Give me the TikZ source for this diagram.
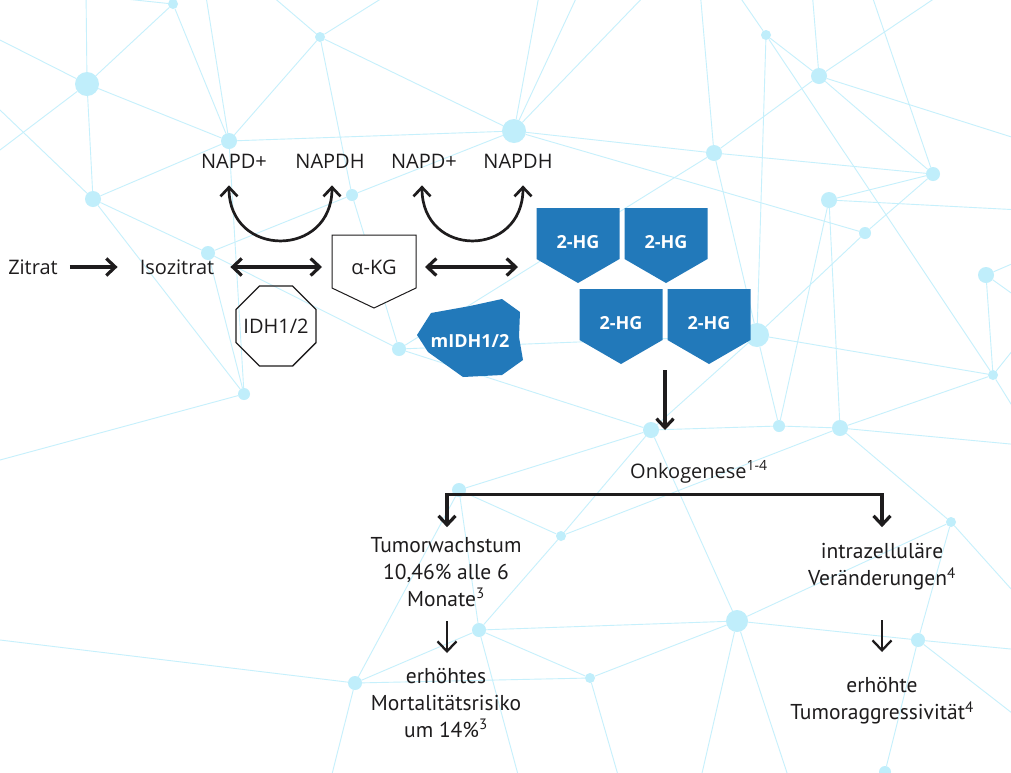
\documentclass[tikz,border=0pt]{standalone}
\usepackage{fontspec}
\setmainfont{Open Sans}
\newfontfamily\bodyfont{PT Sans}
\usetikzlibrary{arrows.meta,shapes.geometric,calc}
\definecolor{net}{HTML}{C0EEFB}
\definecolor{netl}{HTML}{C6F0FC}
\definecolor{hgblue}{HTML}{2279BA}
\definecolor{ink}{HTML}{1E1C1D}
\begin{document}
\begin{tikzpicture}[x=1pt,y=-1pt,
  >={Straight Barb[length=9pt,width=17pt]},
  txt/.style={font=\fontsize{20}{24}\selectfont,text=ink,inner sep=2pt},
  btxt/.style={font=\bodyfont\fontsize{21.5}{27}\selectfont,text=ink,align=center,inner sep=2pt},
  wtxt/.style={font=\bfseries\fontsize{18}{22}\selectfont,text=white,inner sep=1pt},
  arrow/.style={draw=ink,line width=3.2pt},
  thinarrow/.style={draw=ink,line width=2.3pt,>={Straight Barb[length=10pt,width=19pt]}},
  dot/.style={circle,fill=net,inner sep=0pt,draw=none},
  netline/.style={draw=netl,line width=0.9pt}]
\useasboundingbox (0,0) rectangle (1011,772);
\fill[white] (0,0) rectangle (1011,772);
% background network
\begin{scope}
\clip (0,0) rectangle (1011,772);
\foreach \n/\x/\y/\d in {a1/173/4/10,a2/87/84/24,a3/320/37/10,a4/229/141/16,a5/93/199/16,
  a6/208/253/14,a7/352/195/12,a8/514/131/24,a9/714/153/16,a10/766/35/10,a11/819/76/16,
  a12/933/174/14,a13/829/200/16,a14/865/233/12,a15/986/275/16,a16/757/335/24,a17/993/375/10,
  a18/244/394/12,a19/399/349/14,a20/651/430/16,a21/779/426/12,a22/840/428/16,a23/459/490/14,
  a24/561/536/10,a25/951/522/10,a26/479/630/14,a27/737/621/22,a28/918/640/14,a29/355/683/14,
  a30/590/678/10,a31/885/772/12}
  \node[dot,minimum size=\d pt] (\n) at (\x,\y) {};
\foreach \n/\x/\y in {o1/0/150,o2/86/-10,o3/205/-10,o4/0/110,o5/395/-10,o6/265/-10,o7/540/-10,
  o8/580/-10,o9/650/-10,o10/700/-10,o11/735/-10,o12/947/-10,o13/812/-10,o14/1021/140,o15/870/-10,
  o16/1021/210,o17/1021/260,o18/1021/300,o19/1021/340,o20/1021/420,o21/1021/445,o22/700/782,
  o23/790/782,o24/1021/650,o25/1021/720,o26/330/782,o27/0/640,o28/620/782,o29/520/782,
  o30/1021/600,o31/0/40,o32/40/-10,o33/0/460}
  \coordinate (\n) at (\x,\y);
\foreach \p/\q in {a2/a1,a2/a4,a2/a5,a2/o1,a2/o2,a2/o31,a1/a4,a1/o32,
  a4/a3,a4/a5,a4/a8,a4/a18,a4/o3,a5/a6,a5/a18,a5/o4,a6/a7,a6/a19,a6/a18,
  a3/a7,a3/a8,a3/o5,a3/o6,a7/a8,a7/a19,a19/a20,a19/a16,a19/a9,a18/o33,
  a8/a9,a8/a14,a8/o7,a8/o8,a8/o9,a9/a16,a9/a12,a9/a11,a9/o10,
  a10/a11,a10/a16,a10/a17,a10/o11,a11/a12,a11/o12,a11/o13,a11/o14,
  a12/a14,a12/o15,a12/a13,a13/o16,a13/a21,a13/a22,a14/a16,
  a15/a17,a15/o17,a15/o18,a16/a17,a16/a21,a16/a20,a17/o19,a17/o20,a17/a22,
  a20/a21,a20/a23,a20/a24,a20/a27,a21/a22,a22/a25,a22/o21,a22/a24,
  a23/a24,a23/a26,a23/a29,a24/a26,a26/a27,a26/a29,a26/a30,a26/o29,
  a27/a28,a27/a30,a27/a25,a27/o22,a27/o23,a28/a25,a28/o24,a28/a31,a28/o25,
  a29/a30,a29/o26,a29/o27,a30/o28,a25/o30}
  \draw[netline] (\p) -- (\q);
\end{scope}
% top labels
\node[txt] (zit) at (33,267) {Zitrat};
\node[txt] (iso) at (177,267) {Isozitrat};
\node[txt] (n1) at (234,161) {NAPD+};
\node[txt] (n2) at (330,161) {NAPDH};
\node[txt] (n3) at (424,161) {NAPD+};
\node[txt] (n4) at (518,161) {NAPDH};
% alpha-KG
\draw[ink,line width=1pt,fill=white] (332,235) -- (416,235) -- (416,288) -- (374,308) -- (332,288) -- cycle;
\node[txt] (akg) at (374,267) {α-KG};
% IDH1/2
\node[regular polygon,regular polygon sides=8,minimum size=86.6pt,inner sep=0pt,
  draw=ink,line width=1.3pt] (idh) at (276,326) {};
\node[txt] (idht) at (idh.center) {IDH1/2};
% mIDH1/2
\fill[hgblue] (417,335) -- (431,313) -- (470,306) -- (502,299) -- (520,312) -- (519,337)
  -- (523,360) -- (502,375) -- (463,377) -- (428,352) -- cycle;
\node[wtxt] (midh) at (470,341) {mIDH1/2};
% 2-HG
\foreach \n/\x/\y in {hg1/578/242,hg2/666/242,hg3/621/323,hg4/709/323}{
  \fill[hgblue] ($(\x,\y)+(-41.5,-34)$) -- ($(\x,\y)+(41.5,-34)$) -- ($(\x,\y)+(41.5,17)$)
    -- ($(\x,\y)+(0,41)$) -- ($(\x,\y)+(-41.5,17)$) -- cycle;
  \node[wtxt] (\n) at (\x,\y) {2-HG};
}
% arrows top
\draw[arrow,->] ([xshift=10pt]zit.center -| zit.east) -- ([xshift=-20pt]iso.center -| iso.west);
\draw[arrow,<->] ([xshift=14pt]iso.east) -- ([xshift=-52pt]akg.center);
\draw[arrow,<->] ([xshift=51pt]akg.center) -- ([shift={(-60,25)}]hg1.center);
\draw[arrow,line width=2.7pt,<->] ([shift={(-5,15)}]n1.south) .. controls +(0,73) and +(0,73) .. ([shift={(2,15)}]n2.south);
\draw[arrow,line width=2.7pt,<->] ([shift={(-2,15)}]n3.south) .. controls +(0,73) and +(0,73) .. ([shift={(5,15)}]n4.south);
% down from 2-HG
\draw[arrow,->] ($(hg3)!0.5!(hg4)+(0,47)$) -- ($(hg3)!0.5!(hg4)+(0,107)$);
% Onkogenese
\node[txt,anchor=base west] (onk) at (628,478) {Onkogenese\textsuperscript{1-4}};
% lower texts
\node[btxt] (tw) at (446,572) {Tumorwachstum\\10,46\% alle 6\\Monate\textsuperscript{3}};
\node[btxt] (em) at (446,703) {erhöhtes\\Mortalitätsrisiko\\um 14\%\textsuperscript{3}};
\node[btxt] (iv) at (882,567) {intrazelluläre\\Veränderungen\textsuperscript{4}};
\node[btxt] (et) at (882,701) {erhöhte\\Tumoraggressivität\textsuperscript{4}};
% bracket
\coordinate (bl) at ([shift={(1,-8)}]tw.north);
\draw[arrow,<->] (bl) -- ++(0,-33) -| (bl -| iv.north);
% lower arrows
\draw[thinarrow,->] ([xshift=1pt]tw.south |- 0,621) -- ([xshift=1pt]tw.south |- 0,653);
\draw[thinarrow,->] (iv.south |- 0,620) -- (iv.south |- 0,652);
\end{tikzpicture}
\end{document}
